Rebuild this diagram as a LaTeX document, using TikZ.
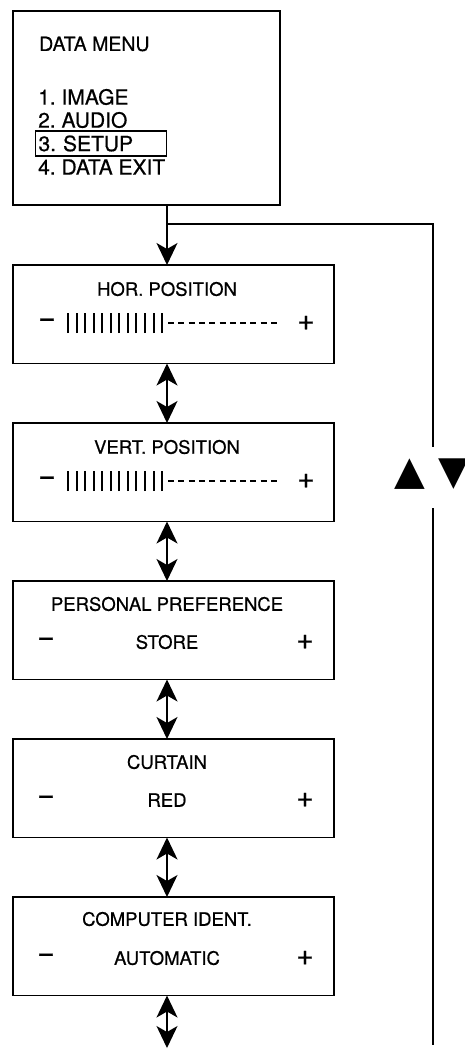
\documentclass[tikz,border=0pt]{standalone}
\usepackage{fontspec}
\setmainfont{TeX Gyre Heros}[FakeBold=0.6,AutoFakeBold=0.6]
\newfontfamily\keyfont{DejaVu Sans}
\usetikzlibrary{positioning,arrows.meta}
\frenchspacing

\tikzset{
  panel/.style={draw,line width=1.7pt,minimum width=321pt,minimum height=98.5pt,outer sep=0pt,inner sep=0pt},
  ptitle/.style={font=\fontsize{18.5}{18.5}\selectfont,inner sep=0pt},
  item/.style={anchor=west,font=\fontsize{21}{21}\selectfont,inner sep=0pt},
  sign/.style={font=\fontsize{30}{30}\selectfont,inner sep=0pt},
  link/.style={line width=1.5pt},
  bar/.style={line width=2pt},
  gaugedash/.style={line width=1.4pt,dash pattern=on 6pt off 4.3pt},
}

% slider row: minus, bars, dashes, plus
\newcommand\slider[1]{%
  \coordinate (#1row) at ([yshift=-58pt]#1.north);
  \node[sign] (#1minus) at (#1row -| 47,0) {−};
  \foreach \i in {0,...,11}
    \draw[bar] ([xshift={68+8.55*\i}]#1row -| 0,0) ++(0,-10) -- ++(0,20);
  \draw[gaugedash] ([xshift=168pt]#1row -| 0,0) -- ([xshift=281pt]#1row -| 0,0);
  \node[sign] (#1plus) at (#1row -| 306,0) {+};
}
% value row: minus, value, plus
\newcommand\setting[2]{%
  \coordinate (#1row) at ([yshift=-61pt]#1.north);
  \node[sign] (#1minus) at (#1row -| 46,0) {−};
  \node[ptitle] (#1value) at (#1row -| axis) {#2};
  \node[sign] (#1plus) at (#1row -| 305,0) {+};
}

\begin{document}
\begin{tikzpicture}[x=1pt,y=1pt,node distance=59.5pt,>={Stealth[length=22pt,width=21pt,inset=6pt]}]
  \useasboundingbox (0,0) rectangle (464,-1049);
  \coordinate (axis) at (167,0);

  % data menu
  \node[panel,minimum width=267pt,minimum height=194pt,anchor=north west] (menu) at (13,-11) {};
  \node[ptitle,anchor=west,font=\fontsize{19.5}{19.5}\selectfont] (menutitle) at (39,-44) {DATA MENU};
  \node[item] (image) at (38,-97) {1. IMAGE};
  \node[item] (audio) at (38,-120) {2. AUDIO};
  \node[item,draw,line width=1.1pt,inner xsep=3pt,text width=125pt,minimum height=25pt] (setup) at (35,-143.5) {3. SETUP};
  \node[item] (dataexit) at (38,-167) {4. DATA EXIT};

  % setup pages
  \node[panel,anchor=north west] (hor) at (13,-265) {};
  \node[panel,below=of hor] (vert) {};
  \node[panel,below=of vert] (pref) {};
  \node[panel,below=of pref] (curt) {};
  \node[panel,below=of curt] (ident) {};

  \node[ptitle,yshift=-24pt] (hortitle) at (hor.north -| axis) {HOR. POSITION};
  \node[ptitle,yshift=-24pt] (verttitle) at (vert.north -| axis) {VERT. POSITION};
  \node[ptitle,yshift=-23pt] (preftitle) at (pref.north -| axis) {PERSONAL PREFERENCE};
  \node[ptitle,yshift=-23pt] (curttitle) at (curt.north -| axis) {CURTAIN};
  \node[ptitle,yshift=-22pt] (identtitle) at (ident.north -| axis) {COMPUTER IDENT.};

  \slider{hor}
  \slider{vert}
  \setting{pref}{STORE}
  \setting{curt}{RED}
  \setting{ident}{AUTOMATIC}

  % arrows
  \draw[->,link] (menu.south -| axis) -- (hor.north -| axis);
  \draw[<->,link] (hor.south -| axis) -- (vert.north -| axis);
  \draw[<->,link] (vert.south -| axis) -- (pref.north -| axis);
  \draw[<->,link] (pref.south -| axis) -- (curt.north -| axis);
  \draw[<->,link] (curt.south -| axis) -- (ident.north -| axis);
  \coordinate (tail) at (167,-1048);
  \draw[<->,link] (ident.south -| axis) -- (tail);

  % return line
  \coordinate (fork) at ([yshift=-19pt]menu.south -| axis);
  \coordinate (corner) at (fork -| 433,0);
  \coordinate (gaptop) at (433,-447);
  \coordinate (gapbot) at (433,-508);
  \coordinate (lineend) at (433,-1045);
  \node[font=\keyfont\fontsize{40}{40}\selectfont,inner sep=0pt] (keys) at (432,-474) {▲ ▼};
  \draw[link,line width=1.8pt] (fork) -- (corner) -- (gaptop);
  \draw[link,line width=1.8pt] (gapbot) -- (lineend);
\end{tikzpicture}
\end{document}
